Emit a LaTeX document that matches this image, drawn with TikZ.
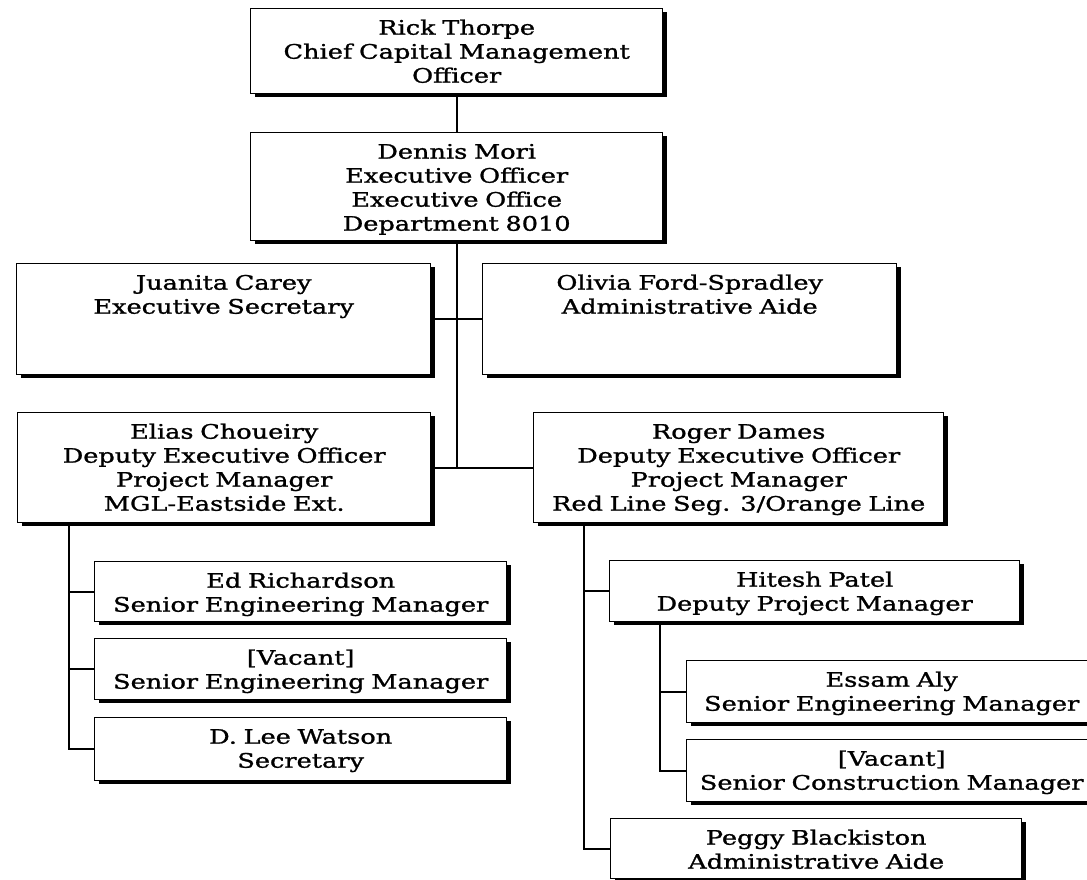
\documentclass[tikz,border=0pt]{standalone}
\usepackage{fontspec}
\setmainfont[FakeStretch=1.28,FakeBold=1.2]{DejaVu Serif}
\usetikzlibrary{shadows}
\tikzset{
  orgbox/.style={draw, line width=1.4pt, fill=white, inner sep=0pt, align=center,
    anchor=north west, text height=26pt, font=\fontsize{20}{24}\selectfont,
    drop shadow={shadow xshift=4pt, shadow yshift=-3.5pt, fill=black, opacity=1}},
  link/.style={line width=2pt}
}
\begin{document}
\begin{tikzpicture}[x=1pt,y=-1pt]
\useasboundingbox (0,0) rectangle (1087,879);
\clip (0,0) rectangle (1087,879);
\node[orgbox, text width=412pt, text depth=59pt] (rick) at (250,8) {Rick Thorpe\\Chief Capital Management\\Officer};
\node[orgbox, text width=412pt, text depth=82pt] (dennis) at (250,132) {Dennis Mori\\Executive Officer\\Executive Office\\Department 8010};
\node[orgbox, text width=414pt, text depth=85pt] (juanita) at (16,263) {Juanita Carey\\Executive Secretary};
\node[orgbox, text width=414pt, text depth=85pt] (olivia) at (482,263) {Olivia Ford-Spradley\\Administrative Aide};
\node[orgbox, text width=413pt, text depth=84pt] (elias) at (17,412) {Elias Choueiry\\Deputy Executive Officer\\Project Manager\\MGL-Eastside Ext.};
\node[orgbox, text width=410pt, text depth=84pt] (roger) at (533,412) {Roger Dames\\Deputy Executive Officer\\Project Manager\\Red Line Seg. 3/Orange Line};
\node[orgbox, text width=412pt, text depth=34pt] (ed) at (94,561) {Ed Richardson\\Senior Engineering Manager};
\node[orgbox, text width=412pt, text depth=35pt] (vac1) at (94,638) {[Vacant]\\Senior Engineering Manager};
\node[orgbox, text width=412pt, text depth=37pt] (dlee) at (94,717) {D. Lee Watson\\Secretary};
\node[orgbox, text width=410pt, text depth=35pt] (hitesh) at (609,560) {Hitesh Patel\\Deputy Project Manager};
\node[orgbox, text width=410pt, text depth=36pt] (essam) at (686,660) {Essam Aly\\Senior Engineering Manager};
\node[orgbox, text width=410pt, text depth=36pt] (vac2) at (686,739) {[Vacant]\\Senior Construction Manager};
\node[orgbox, text width=411pt, text depth=34pt] (peggy) at (610,818) {Peggy Blackiston\\Administrative Aide};
\coordinate (et) at ([xshift=52pt]elias.south west);
\coordinate (rt) at ([xshift=51pt]roger.south west);
\coordinate (ht) at ([xshift=51pt]hitesh.south west);
\draw[link] (rick.south) -- (dennis.north);
\draw[link] (dennis.south) -- (dennis.south |- elias.east);
\draw[link] (juanita.east) -- (olivia.west);
\draw[link] (elias.east) -- (roger.west);
\draw[link] (et) |- (dlee.west);
\draw[link] (et |- ed.west) -- (ed.west);
\draw[link] (et |- vac1.west) -- (vac1.west);
\draw[link] (rt) |- (peggy.west);
\draw[link] (rt |- hitesh.west) -- (hitesh.west);
\draw[link] (ht) |- (vac2.west);
\draw[link] (ht |- essam.west) -- (essam.west);
\end{tikzpicture}
\end{document}
